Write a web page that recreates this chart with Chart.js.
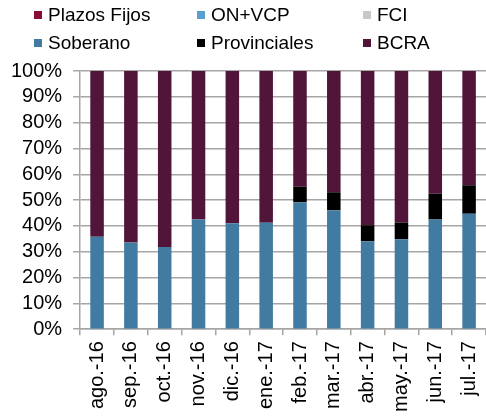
<!DOCTYPE html>
<html>
<head>
<meta charset="utf-8">
<script src="https://cdn.jsdelivr.net/npm/chart.js@4/dist/chart.umd.min.js"></script>
<style>
  body { margin: 0; background: #fff; }
  #wrap { position: relative; width: 486px; height: 419px; }
  #legend { position: absolute; left: 0; top: 0; width: 486px; height: 60px;
            font-family: "Liberation Sans", Arial, sans-serif; font-size: 19px; color: #000; }
  .item { position: absolute; white-space: nowrap; line-height: 20px; }
  .box { display: inline-block; width: 8px; height: 8px; margin-right: 6px; vertical-align: 2px; }
</style>
</head>
<body>
<div id="wrap">
  <canvas id="chart" width="486" height="419"></canvas>
  <div id="legend"></div>
</div>
<script>
// categories (months)
var labels = ['ago.-16','sep.-16','oct.-16','nov.-16','dic.-16','ene.-17','feb.-17','mar.-17','abr.-17','may.-17','jun.-17','jul.-17'];

// series values (% of total)
var plazosFijos  = [0,0,0,0,0,0,0,0,0,0,0,0];
var onVcp        = [0,0,0,0,0,0,0,0,0,0,0,0];
var fci          = [0,0,0,0,0,0,0,0,0,0,0,0];
var soberano     = [35.8, 33.6, 31.8, 42.5, 41.0, 41.2, 49.2, 46.1, 34.1, 34.8, 42.5, 44.7];
var provinciales = [0, 0, 0, 0, 0, 0, 6.0, 6.9, 6.2, 6.5, 10.0, 11.1];
var bcra         = [64.2, 66.4, 68.2, 57.5, 59.0, 58.8, 44.8, 47.0, 59.7, 58.7, 47.5, 44.2];

// y axis ticks
var yTicks = [0,10,20,30,40,50,60,70,80,90,100];

var series = [
    {name: 'Plazos Fijos', data: plazosFijos, color: '#8b0b35', col: 0, row: 0},
    {name: 'ON+VCP', data: onVcp, color: '#5b9fd0', col: 1, row: 0},
    {name: 'FCI', data: fci, color: '#c8c8c8', col: 2, row: 0},
    {name: 'Soberano', data: soberano, color: '#427ba1', col: 0, row: 1},
    {name: 'Provinciales', data: provinciales, color: '#000000', col: 1, row: 1},
    {name: 'BCRA', data: bcra, color: '#52153a', col: 2, row: 1}
];

// legend (html, 3 columns x 2 rows)
var colX = [34, 197, 363];
var rowY = [5, 33];
var legendDiv = document.getElementById('legend');
series.forEach(function(s) {
    var el = document.createElement('div');
    el.className = 'item';
    el.style.left = colX[s.col] + 'px';
    el.style.top = rowY[s.row] + 'px';
    el.innerHTML = '<span class="box" style="background:' + s.color + '"></span>' + s.name;
    legendDiv.appendChild(el);
});

// stacking order: bottom to top
var stackOrder = ['Soberano', 'Provinciales', 'BCRA', 'Plazos Fijos', 'ON+VCP', 'FCI'];
var datasets = stackOrder.map(function(n) {
    var s = series.filter(function(x) { return x.name == n; })[0];
    return {
        label: s.name,
        data: s.data,
        backgroundColor: s.color,
        borderWidth: 0,
        barPercentage: 0.8,
        categoryPercentage: 0.5
    };
});

var gridColor = '#a6a6a6';
var font = {family: '"Liberation Sans", Arial, sans-serif', size: 20};

new Chart(document.getElementById('chart'), {
    type: 'bar',
    data: { labels: labels, datasets: datasets },
    options: {
        responsive: false,
        animation: false,
        layout: { padding: { top: 71, left: 0, right: 0, bottom: 1 } },
        plugins: { legend: { display: false }, tooltip: { enabled: false } },
        scales: {
            x: {
                stacked: true,
                // let the plot run to the right edge like the original
                afterFit: function(axis) { axis.paddingRight = 0; axis.paddingLeft = 0; },
                grid: { drawOnChartArea: false, drawTicks: true, tickLength: 6, color: gridColor, lineWidth: 1.5 },
                border: { color: gridColor, width: 1.5 },
                ticks: { color: '#000', font: font, maxRotation: 90, minRotation: 90, padding: 6, autoSkip: false }
            },
            y: {
                stacked: true,
                min: 0,
                max: 100,
                afterBuildTicks: function(axis) {
                    axis.ticks = yTicks.map(function(v) { return {value: v}; });
                },
                grid: { color: gridColor, lineWidth: 1.5, tickLength: 7 },
                border: { color: gridColor, width: 1.5 },
                ticks: { color: '#000', font: font, padding: 11, autoSkip: false, callback: function(v) { return v + '%'; } }
            }
        }
    }
});
</script>
</body>
</html>
